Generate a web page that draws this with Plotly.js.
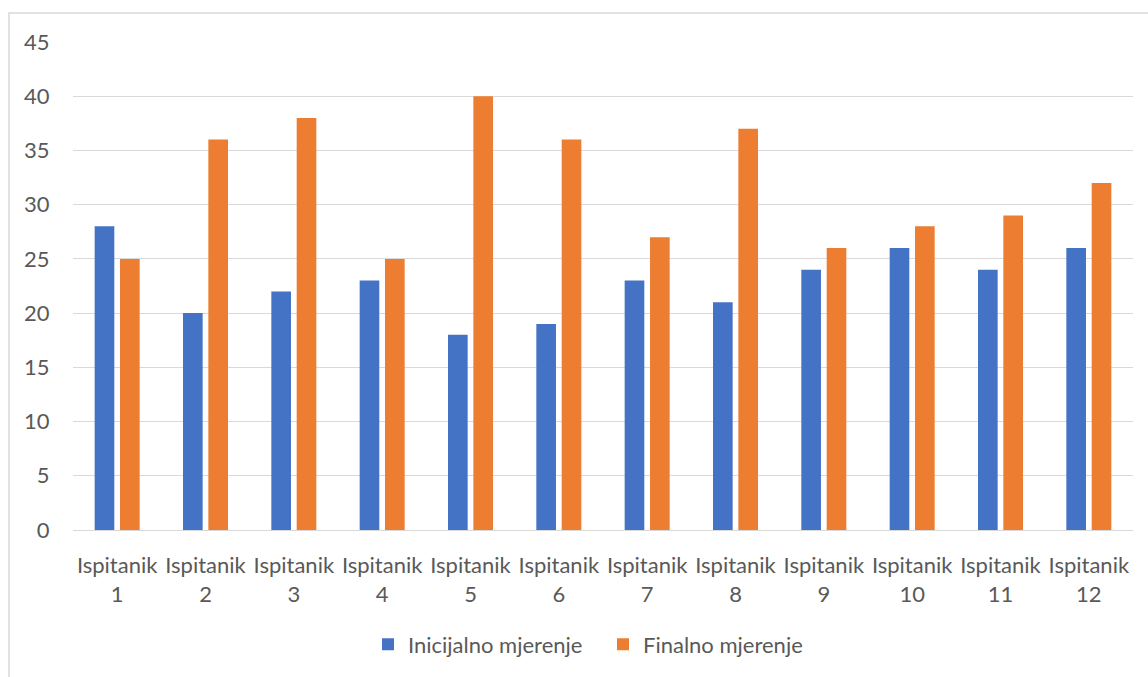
<!DOCTYPE html>
<html>
<head>
<meta charset="utf-8">
<script src="https://cdn.plot.ly/plotly-3.0.1.min.js"></script>
<style>html,body{margin:0;padding:0;background:#fff;}#chart{width:1148px;height:677px;}</style>
</head>
<body>
<div id="chart"></div>
<script>
const categories = ["Ispitanik<br>1","Ispitanik<br>2","Ispitanik<br>3","Ispitanik<br>4","Ispitanik<br>5","Ispitanik<br>6","Ispitanik<br>7","Ispitanik<br>8","Ispitanik<br>9","Ispitanik<br>10","Ispitanik<br>11","Ispitanik<br>12"];
const inicijalno = [28,20,22,23,18,19,23,21,24,26,24,26];
const finalno = [25,36,38,25,40,36,27,37,26,28,29,32];
const seriesNames = ["Inicijalno mjerenje","Finalno mjerenje"];
const yTicks = [0,5,10,15,20,25,30,35,40,45];

const font = {family:"Lato, 'Open Sans', sans-serif", size:22, color:"#595959"};
const traces = [
  {type:"bar", name:seriesNames[0], x:categories, y:inicijalno, marker:{color:"#4472C4"}, hoverinfo:"y"},
  {type:"bar", name:seriesNames[1], x:categories, y:finalno, marker:{color:"#ED7D31"}, hoverinfo:"y"}
];
const L=73, R=15, T=42, B=145, W=1148, H=677;
const pw=W-L-R, ph=H-T-B;
const px=v=>(v-L)/pw, py=v=>(H-B-v)/ph;
const layout = {
  width:W, height:H,
  margin:{l:L,r:R,t:T,b:B,pad:0},
  paper_bgcolor:"#fff", plot_bgcolor:"#fff",
  font:font,
  barmode:"group", bargap:0.426, bargroupgap:0.225,
  xaxis:{type:"category", showgrid:false, zeroline:false, showline:true, linecolor:"#D9D9D9", linewidth:1,
    ticks:"outside", ticklen:16, tickcolor:"rgba(0,0,0,0)", tickfont:font, fixedrange:true},
  yaxis:{range:[0,45], tickvals:yTicks, showgrid:true, gridcolor:"#D9D9D9", gridwidth:1, zeroline:false, showline:false,
    ticks:"outside", ticklen:18, tickcolor:"rgba(0,0,0,0)", tickfont:font, fixedrange:true},
  legend:{orientation:"h", x:0.5, xanchor:"center", y:py(647), yanchor:"middle", font:font, traceorder:"normal",
    itemwidth:30, entrywidth:190},
  shapes:[{type:"rect", xref:"paper", yref:"paper", x0:px(9), x1:px(1152), y0:py(682), y1:py(13), line:{color:"#D9D9D9", width:1.5}, fillcolor:"rgba(0,0,0,0)"}],
  showlegend:true
};
Plotly.newPlot("chart", traces, layout, {displayModeBar:false, staticPlot:true});
</script>
</body>
</html>
